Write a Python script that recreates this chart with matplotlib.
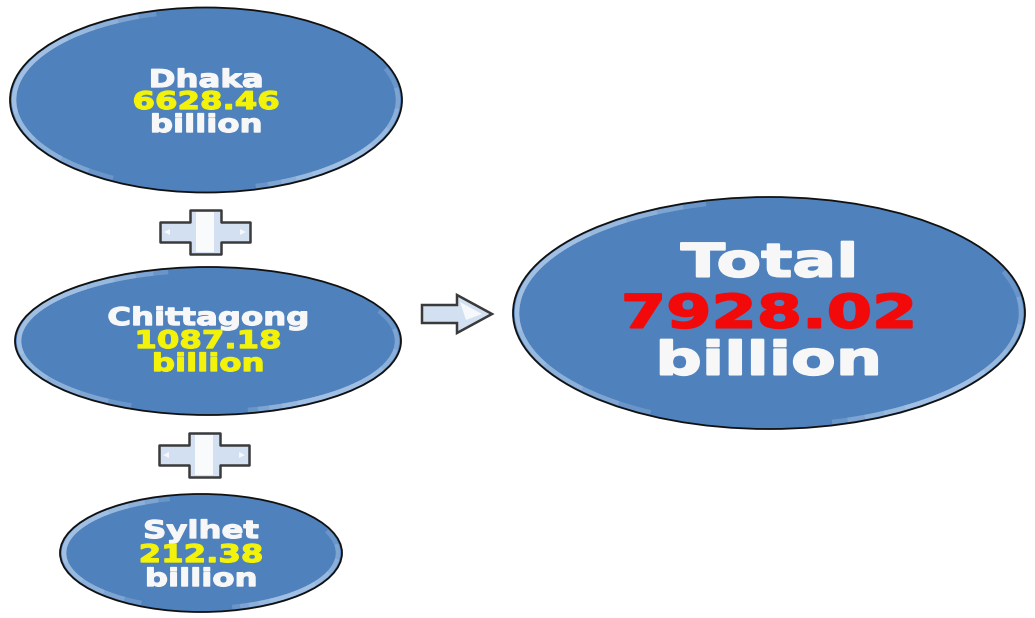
import matplotlib
matplotlib.use("Agg")
import matplotlib.pyplot as plt
from matplotlib.patches import Ellipse, Arc, Polygon
from matplotlib.patheffects import AbstractPathEffect
from matplotlib.transforms import Affine2D

# values from the picture
regions = ["Dhaka", "Chittagong", "Sylhet"]
amounts = [6628.46, 1087.18, 212.38]
total_label = "Total"
total_amount = 7928.02
unit = "billion"

# layout (pixel space, y downwards)
centers = [(206, 100), (208, 341), (201, 553)]
sizes = [(392, 185), (386, 148), (282, 118)]
line_y = [(80, 102, 125), (318, 341, 364), (531, 555, 579)]
unit_colors = ["#F7F7F7", "#F2F20A", "#F7F7F7"]
total_center = (769, 313)
total_size = (512, 232)

BLUE = "#4F81BD"
WHITE = "#F7F7F7"
YELLOW = "#F2F20A"
RED = "#F20A0A"
OUTLINE = "#3A3A3A"
LIGHT = "#D3E0F1"


class WideBold(AbstractPathEffect):
    """stretch text horizontally about its own centre and fatten the strokes"""

    def __init__(self, sx=1.5, lw=0.8):
        super().__init__()
        self.sx = sx
        self.lw = lw

    def draw_path(self, renderer, gc, tpath, affine, rgbFace=None):
        bb = tpath.get_extents(affine)
        cx = 0.5 * (bb.x0 + bb.x1)
        tr = affine + Affine2D().translate(-cx, 0).scale(self.sx, 1).translate(cx, 0)
        gc0 = renderer.new_gc()
        gc0.copy_properties(gc)
        gc0.set_linewidth(self.lw)
        gc0.set_foreground(rgbFace)
        renderer.draw_path(gc0, tpath, tr, rgbFace)
        gc0.restore()


fig = plt.figure(figsize=(10.35, 6.18), dpi=100)
ax = fig.add_axes([0, 0, 1, 1])
ax.set_xlim(0, 1035)
ax.set_ylim(618, 0)
ax.axis("off")


def bubble(c, s):
    ax.add_patch(Ellipse(c, s[0], s[1], facecolor=BLUE, edgecolor="none", zorder=1))
    # soft bevel highlight: stacked arcs, shorter ones on top -> fades at the ends
    for t1, t2 in [(140, 240), (-10, 60)]:
        mid, half = (t1 + t2) / 2, (t2 - t1) / 2
        for k in range(5):
            h = half * (1 - k * 0.18)
            ax.add_patch(Arc(c, s[0] - 8, s[1] - 7, theta1=mid - h, theta2=mid + h,
                             color="#BCD4F0", lw=3.2, alpha=0.25, zorder=2))
    ax.add_patch(Ellipse(c, s[0], s[1], facecolor="none", edgecolor="#111111",
                         lw=1.3, zorder=3))


def plus(cx, cy):
    hw, hh = 45, 10      # horizontal bar half sizes
    vw, vh = 15.5, 22    # vertical bar half sizes
    pts = [(cx - vw, cy - vh), (cx + vw, cy - vh), (cx + vw, cy - hh),
           (cx + hw, cy - hh), (cx + hw, cy + hh), (cx + vw, cy + hh),
           (cx + vw, cy + vh), (cx - vw, cy + vh), (cx - vw, cy + hh),
           (cx - hw, cy + hh), (cx - hw, cy - hh), (cx - vw, cy - hh)]
    ax.add_patch(Polygon(pts, closed=True, facecolor=LIGHT, edgecolor=OUTLINE,
                         lw=1.8, joinstyle="round", zorder=4))
    ax.add_patch(Polygon([(cx - 9, cy - vh + 2), (cx + 9, cy - vh + 2),
                          (cx + 9, cy + vh - 2), (cx - 9, cy + vh - 2)],
                         facecolor="white", edgecolor="none", alpha=0.85, zorder=5))
    for sgn in (-1, 1):
        ax.add_patch(Polygon([(cx + sgn * (hw - 4), cy), (cx + sgn * (hw - 10), cy - 3),
                              (cx + sgn * (hw - 10), cy + 3)],
                             facecolor="white", edgecolor="none", alpha=0.8, zorder=5))


def arrow(x0, cy):
    pts = [(x0, cy - 9), (x0 + 35, cy - 9), (x0 + 35, cy - 19), (x0 + 70, cy),
           (x0 + 35, cy + 19), (x0 + 35, cy + 9), (x0, cy + 9)]
    ax.add_patch(Polygon(pts, closed=True, facecolor=LIGHT, edgecolor=OUTLINE,
                         lw=1.8, joinstyle="miter", zorder=4))
    ax.add_patch(Polygon([(x0 + 38, cy - 12), (x0 + 60, cy), (x0 + 44, cy + 6)],
                         facecolor="white", edgecolor="none", alpha=0.8, zorder=5))


small_fx = [WideBold(1.33, 1.0)]
for name, val, c, s, ys, uc in zip(regions, amounts, centers, sizes, line_y, unit_colors):
    bubble(c, s)
    kw = dict(ha="center", va="center", fontsize=17.5, fontweight="bold",
              family="DejaVu Sans", zorder=6, path_effects=small_fx)
    ax.text(c[0], ys[0], name, color=WHITE, **kw)
    ax.text(c[0], ys[1], f"{val:.2f}", color=YELLOW, **kw)
    ax.text(c[0], ys[2], unit, color=uc, **kw)

plus(205, 232)
plus(204, 455)
arrow(422, 314)

bubble(total_center, total_size)
kw = dict(ha="center", va="center", fontsize=33, fontweight="bold",
          family="DejaVu Sans", zorder=6, path_effects=[WideBold(1.42, 1.5)])
ax.text(total_center[0], 264, total_label, color=WHITE, **kw)
ax.text(total_center[0], 315, f"{total_amount:.2f}", color=RED, **kw)
ax.text(total_center[0], 362, unit, color=WHITE, **kw)

fig.savefig("out.png", dpi=100, facecolor="white")
